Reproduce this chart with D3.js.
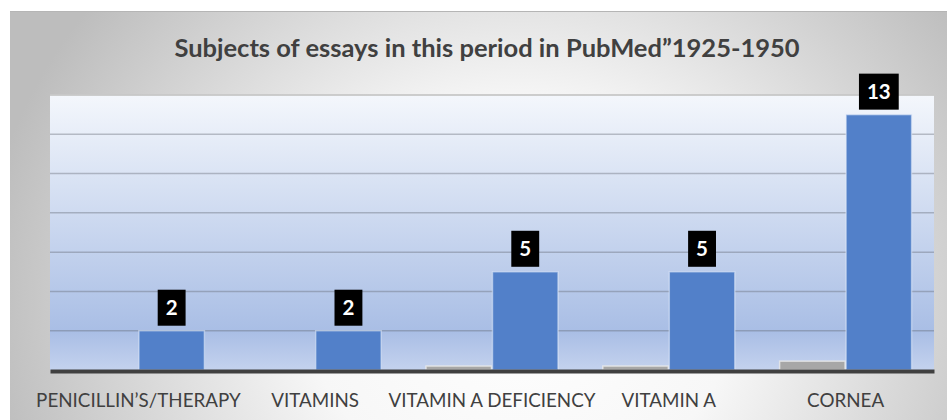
<!DOCTYPE html>
<html>
<head>
<meta charset="utf-8">
<script src="https://cdn.jsdelivr.net/npm/d3@7"></script>
<style>
  html, body { margin: 0; padding: 0; background: #ffffff; }
  svg { display: block; }
</style>
</head>
<body>
<div id="chart"></div>
<script>
const categories = ["PENICILLIN\u2019S/THERAPY", "VITAMINS", "VITAMIN A DEFICIENCY", "VITAMIN A", "CORNEA"];
const seriesNames = ["share", "count"];
const shareValues = [0, 0, 0.2, 0.2, 0.45];
const countValues = [2, 2, 5, 5, 13];
const yTicks = [0, 2, 4, 6, 8, 10, 12, 14];
const chartTitle = "Subjects of essays in this period in PubMed\u201d1925-1950";

const width = 947;
const height = 420;
const plot = { left: 50, right: 934, top: 95, bottom: 370 };

const svg = d3.select("#chart").append("svg")
  .attr("width", width)
  .attr("height", height);

const defs = svg.append("defs");

const bgGrad = defs.append("radialGradient")
  .attr("id", "bg-grad")
  .attr("gradientUnits", "userSpaceOnUse")
  .attr("cx", 520).attr("cy", 300).attr("r", 540)
  .attr("gradientTransform", "translate(520,300) scale(1,0.9) translate(-520,-300)");
bgGrad.append("stop").attr("offset", 0).attr("stop-color", "#ffffff");
bgGrad.append("stop").attr("offset", 0.4).attr("stop-color", "#f7f7f7");
bgGrad.append("stop").attr("offset", 1).attr("stop-color", "#bdbdbd");

const plotGrad = defs.append("linearGradient")
  .attr("id", "plot-grad")
  .attr("x1", 0).attr("y1", 0).attr("x2", 0).attr("y2", 1);
plotGrad.append("stop").attr("offset", 0).attr("stop-color", "#f4f7fc");
plotGrad.append("stop").attr("offset", 0.86).attr("stop-color", "#a9bee5");
plotGrad.append("stop").attr("offset", 1).attr("stop-color", "#c4d2ee");

// outer chart area
svg.append("rect")
  .attr("x", 10).attr("y", 11)
  .attr("width", width - 10).attr("height", height - 11)
  .attr("fill", "url(#bg-grad)");
svg.append("line")
  .attr("x1", 10).attr("x2", width)
  .attr("y1", 11.5).attr("y2", 11.5)
  .attr("stroke", "#b5b5b5").attr("stroke-width", 1);

svg.append("text")
  .attr("x", 487)
  .attr("y", 57)
  .attr("text-anchor", "middle")
  .style("font-family", "Lato, 'Open Sans', sans-serif")
  .style("font-weight", "bold")
  .style("font-size", "25.5px")
  .style("fill", "#404040")
  .text(chartTitle);

const x0 = d3.scaleBand()
  .domain(categories)
  .range([plot.left, plot.right])
  .padding(0);

const x1 = d3.scaleBand()
  .domain(seriesNames)
  .range([0, x0.bandwidth()])
  .paddingInner(0.015)
  .paddingOuter(0.337);

const y = d3.scaleLinear()
  .domain([0, 14])
  .range([plot.bottom, plot.top]);

// plot area
svg.append("rect")
  .attr("x", plot.left).attr("y", plot.top)
  .attr("width", plot.right - plot.left)
  .attr("height", plot.bottom - plot.top)
  .attr("fill", "url(#plot-grad)");

// gridlines
svg.append("g")
  .selectAll("line")
  .data(yTicks.filter(t => t > 0))
  .join("line")
  .attr("x1", plot.left).attr("x2", plot.right)
  .attr("y1", d => y(d)).attr("y2", d => y(d))
  .attr("stroke", d => d === 14 ? "rgba(200,200,200,0.9)" : "rgba(95,100,110,0.38)")
  .attr("stroke-width", d => d === 14 ? 2 : 1.5);

const groups = svg.append("g")
  .selectAll("g")
  .data(categories.map((c, i) => ({ cat: c, share: shareValues[i], count: countValues[i] })))
  .join("g")
  .attr("transform", d => `translate(${x0(d.cat)},0)`);

groups.append("rect")
  .attr("x", x1("share"))
  .attr("width", x1.bandwidth())
  .attr("y", d => y(d.share))
  .attr("height", d => y(0) - y(d.share))
  .attr("fill", "#a7a7a7")
  .attr("stroke", "rgba(235,235,235,0.8)")
  .attr("stroke-width", d => d.share > 0 ? 1.5 : 0);

groups.append("rect")
  .attr("x", x1("count"))
  .attr("width", x1.bandwidth())
  .attr("y", d => y(d.count))
  .attr("height", d => y(0) - y(d.count))
  .attr("fill", "#5280c9")
  .attr("stroke", "rgba(225,235,250,0.55)")
  .attr("stroke-width", 1.5);

// data labels in black boxes
const labels = groups.append("g")
  .attr("transform", d => `translate(${x1("count") + x1.bandwidth() / 2},${y(d.count) - 5 - 18})`);

labels.append("text")
  .attr("text-anchor", "middle")
  .attr("dy", "0.36em")
  .style("font-family", "Lato, 'Open Sans', sans-serif")
  .style("font-weight", "bold")
  .style("font-size", "20.5px")
  .style("fill", "#ffffff")
  .text(d => d.count)
  .each(function() {
    const w = this.getComputedTextLength() + 16;
    d3.select(this.parentNode).insert("rect", "text")
      .attr("x", -w / 2).attr("y", -18)
      .attr("width", w).attr("height", 36)
      .attr("fill", "#000000");
  });

// x axis
const xAxis = svg.append("g")
  .attr("transform", `translate(0,${plot.bottom})`)
  .call(d3.axisBottom(x0).tickSize(0).tickPadding(0));

xAxis.select(".domain")
  .attr("stroke", "#404040")
  .attr("stroke-width", 4)
  .attr("transform", "translate(0,1)");

xAxis.selectAll(".tick text")
  .attr("y", 37)
  .attr("dy", 0)
  .style("font-family", "Lato, 'Open Sans', sans-serif")
  .style("font-size", "18.8px")
  .style("fill", "#404040");
</script>
</body>
</html>
